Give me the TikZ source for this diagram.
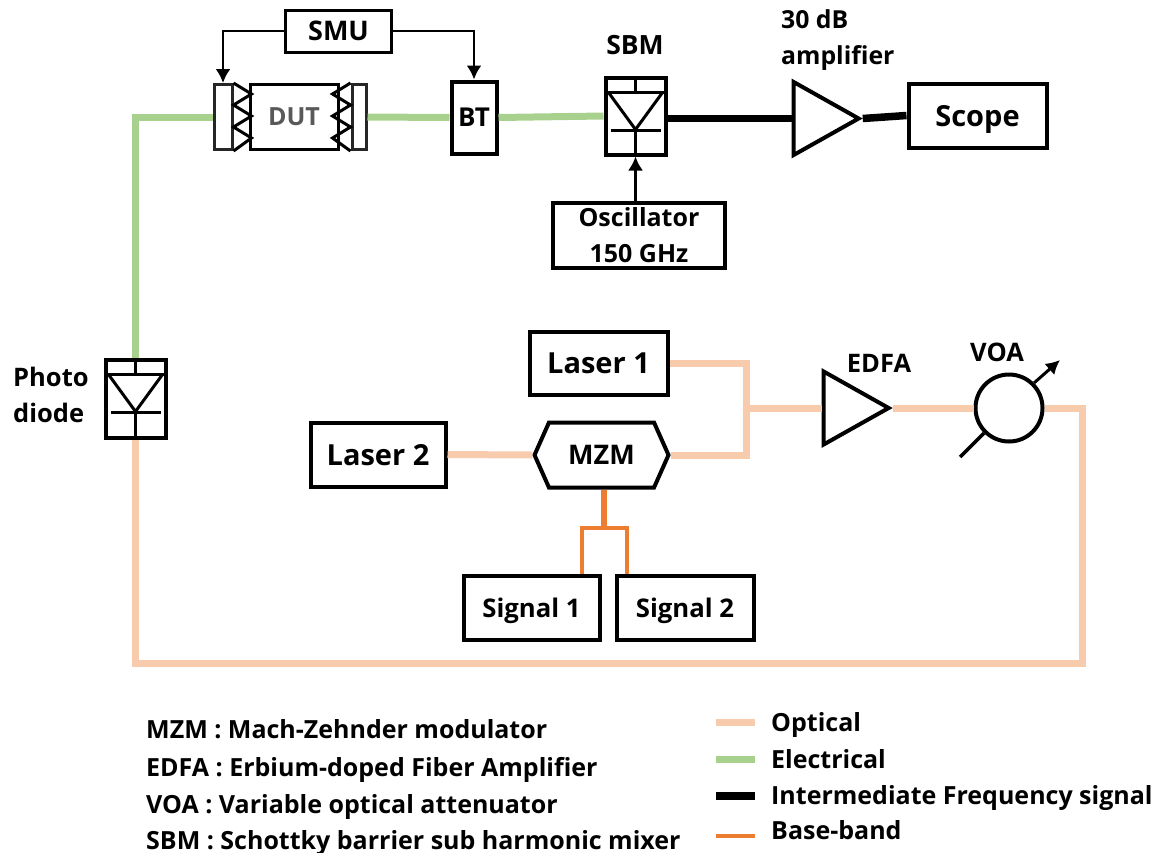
\documentclass[tikz,border=0pt]{standalone}
\usepackage{fontspec}
\setmainfont{Open Sans}
\usepackage{xcolor}
\usetikzlibrary{arrows.meta,positioning,shapes.geometric,shapes.symbols}
\definecolor{opticalpeach}{HTML}{F8CBAD}
\definecolor{elecgreen}{HTML}{A9D18E}
\definecolor{basebandorange}{HTML}{ED7D31}
\definecolor{dutgray}{HTML}{595959}
\tikzset{
    device/.style={rectangle, draw=black, line width=4pt, fill=white, text depth=0pt,
        inner sep=0pt, align=center, font=\bfseries\fontsize{29}{36}\selectfont},
    smallbox/.style={device, line width=3pt},
    padbox/.style={rectangle, draw=black!85, line width=3pt, fill=white, inner sep=0pt},
    amp/.style={isosceles triangle, draw=black, line width=4pt, fill=white, inner sep=0pt,
        isosceles triangle apex angle=59, isosceles triangle stretches,
        minimum width=73pt, minimum height=65pt},
    label/.style={inner sep=0pt, align=left, font=\bfseries\fontsize{25.5}{36}\selectfont},
    legendtext/.style={inner sep=0pt, anchor=west, text depth=0pt, font=\bfseries\fontsize{25}{30}\selectfont},
    optical/.style={draw=opticalpeach, line width=7pt},
    electrical/.style={draw=elecgreen, line width=7pt},
    ifline/.style={draw=black, line width=7.5pt},
    baseband/.style={draw=basebandorange, line width=4.5pt},
    biasline/.style={-{Latex[length=14pt,width=15pt]}, draw=black, line width=2.5pt},
    symline/.style={draw=black, line width=3pt}
}
\newcommand{\diodeparts}[1]{
    \draw[symline] (#1.north) -- ++(0,17) coordinate (#1top);
    \draw[symline] ([yshift=-17pt]#1.north west) -- ([yshift=-17pt]#1.north east);
    \draw[symline] ([xshift=-27pt]#1top) -- ([yshift=-37pt]#1top) -- ([xshift=27pt]#1top);
    \draw[symline] ([xshift=-25pt,yshift=-38pt]#1top) -- ([xshift=25pt,yshift=-38pt]#1top);
    \draw[symline] ([yshift=-37pt]#1top) -- (#1.south);
}
\begin{document}
\begin{tikzpicture}[x=1pt,y=-1pt]
    \useasboundingbox (0,0) rectangle (1158,852);
    \node[smallbox,minimum width=88pt,minimum height=65pt,text=dutgray,font=\bfseries\fontsize{25}{30}\selectfont] (dut) at (294,117) {DUT};
    \node[padbox,minimum width=18pt,minimum height=65pt,left=15pt of dut] (padleft) {};
    \node[padbox,minimum width=14pt,minimum height=65pt,right=11pt of dut] (padright) {};
    \node[smallbox,minimum width=106pt,minimum height=42pt,font=\bfseries\fontsize{27}{36}\selectfont] (smu) at (338.5,31) {SMU};
    \node[device,minimum width=45pt,minimum height=72pt,font=\bfseries\fontsize{26}{30}\selectfont] (bt) at (474,117.5) {BT};
    \node[device,minimum width=60pt,minimum height=77pt] (sbm) at (635.5,116) {};
    \node[device,minimum width=172pt,minimum height=65pt,below=44pt of sbm.south,xshift=3.5pt,font=\bfseries\fontsize{25}{36}\selectfont] (osc) {Oscillator\\150 GHz};
    \node[amp] (ifamp) at (815,118.5) {};
    \node[device,minimum width=138pt,minimum height=64pt] (scope) at (977.5,115.5) {Scope};
    \node[device,minimum width=138pt,minimum height=63pt] (laserone) at (598.5,363) {Laser 1};
    \node[device,minimum width=135pt,minimum height=64pt] (lasertwo) at (378,454.5) {Laser 2};
    \node[signal,signal to=east and west,signal pointer angle=132,draw=black,line width=4pt,fill=white,inner sep=0pt,
        minimum width=134pt,minimum height=65pt,font=\bfseries\fontsize{27}{36}\selectfont] (mzm) at (601.5,455) {MZM};
    \node[device,minimum width=136pt,minimum height=64pt,font=\bfseries\fontsize{25.7}{36}\selectfont] (signalone) at (531.5,607.5) {Signal 1};
    \node[device,minimum width=137pt,minimum height=64pt,font=\bfseries\fontsize{25.7}{36}\selectfont] (signaltwo) at (685,607.5) {Signal 2};
    \node[amp] (edfa) at (845,408) {};
    \node[circle,draw=black,line width=4pt,fill=white,inner sep=0pt,minimum size=67pt] (voa) at (1009,408) {};
    \node[device,minimum width=60pt,minimum height=78pt] (photo) at (135.5,398.5) {};
    \coordinate (voatail) at (960,457);
    \coordinate (voahead) at (1060,360);
    \coordinate (splitpoint) at (604,528);
    \coordinate (corner) at (746,408);
    \node[label,font=\bfseries\fontsize{26.5}{36}\selectfont] at (635,45) {SBM};
    \node[label,anchor=west,font=\bfseries\fontsize{24.8}{36}\selectfont] at (781,40) {30 dB\\amplifier};
    \node[label] at (879,363) {EDFA};
    \node[label] at (997,352) {VOA};
    \node[label,anchor=west] at (13,395) {Photo\\diode};
    \diodeparts{sbm}
    \diodeparts{photo}
    \draw[symline] (padleft.north east) -- ++(18,11) -- ++(-18,11) -- ++(18,11) -- ++(-18,11) -- ++(18,11) -- (padleft.south east);
    \draw[symline] (padright.north west) -- ++(-18,11) -- ++(18,11) -- ++(-18,11) -- ++(18,11) -- ++(-18,11) -- (padright.south west);
    \draw[biasline] (smu.west) -| (padleft.north);
    \draw[biasline] (smu.east) -| (bt.north);
    \draw[biasline] (osc.north -| sbm.south) -- (sbm.south);
    \draw[electrical] (photo.north) |- (padleft.west);
    \draw[electrical] (padright.east) -- (bt.west);
    \draw[electrical] (bt.east) -- (sbm.west);
    \draw[ifline] (sbm.east |- ifamp.west) -- (ifamp.west);
    \draw[ifline] (ifamp.apex) -- (scope.west);
    \draw[optical] (lasertwo.east) -- (mzm.west);
    \draw[optical] (laserone.east) -| (corner) |- (mzm.east);
    \draw[optical] (corner) -- (edfa.west);
    \draw[optical] (edfa.apex) -- (voa.west);
    \draw[optical] (voa.east) -| (1082,663) -| (photo.south);
    \draw[baseband,line width=6pt] (splitpoint |- mzm.south) -- (splitpoint);
    \draw[baseband] (signalone.north -| 582,0) |- (splitpoint) -| (signaltwo.north -| 627,0);
    \draw[symline,line width=3.5pt] (voatail) -- (voa.south west);
    \draw[biasline,line width=3pt] (voa.north east) -- (voahead);
    \node[legendtext] (legmzm) at (146,729) {MZM : Mach-Zehnder modulator};
    \node[legendtext] (legedfa) at (146,767) {EDFA : Erbium-doped Fiber Amplifier};
    \node[legendtext] (legvoa) at (146,804) {VOA : Variable optical attenuator};
    \node[legendtext] (legsbm) at (146,840) {SBM : Schottky barrier sub harmonic mixer};
    \node[legendtext] (legopt) at (771,722) {Optical};
    \node[legendtext] (legele) at (771,759) {Electrical};
    \node[legendtext] (legif) at (771,795) {Intermediate Frequency signal};
    \node[legendtext] (legbase) at (771,830) {Base-band};
    \coordinate (keyopt) at (716,722);
    \coordinate (keyele) at (716,759);
    \coordinate (keyif) at (716,796);
    \coordinate (keybase) at (716,836);
    \draw[optical] (keyopt) -- ++(39,0);
    \draw[electrical] (keyele) -- ++(39,0);
    \draw[ifline] (keyif) -- ++(39,0);
    \draw[baseband] (keybase) -- ++(39,0);
\end{tikzpicture}
\end{document}
